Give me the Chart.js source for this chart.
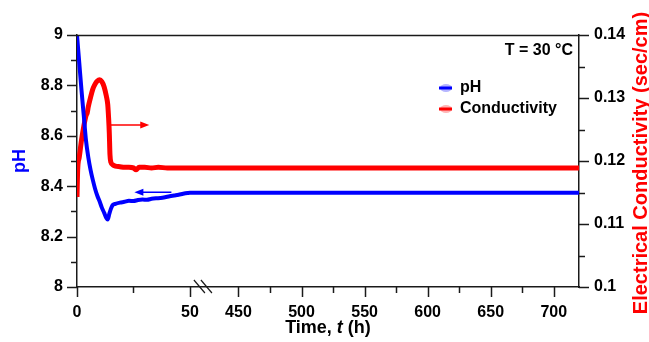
<!DOCTYPE html>
<html>
<head>
<meta charset="utf-8">
<script src="https://cdn.jsdelivr.net/npm/chart.js@4.4.1/dist/chart.umd.min.js"></script>
<style>
  html, body { margin: 0; padding: 0; background: #fff; }
</style>
</head>
<body>
<canvas id="chart" width="649" height="342"></canvas>
<script>
// pH readings (left axis), time in hours
const phTime = [0, 1, 2, 3, 4, 5, 6, 7, 8, 9, 10, 11, 12, 13, 13.6, 14.3, 15, 15.8, 17, 19, 21, 23, 25, 27, 29, 31, 33, 35, 37, 39, 41, 43, 45, 47, 49, 50, 450, 720];
const phValues = [9.00, 8.89, 8.78, 8.68, 8.58, 8.515, 8.465, 8.425, 8.39, 8.362, 8.34, 8.315, 8.295, 8.274, 8.268, 8.29, 8.31, 8.325, 8.33, 8.335, 8.338, 8.342, 8.341, 8.345, 8.347, 8.346, 8.35, 8.352, 8.353, 8.356, 8.36, 8.363, 8.366, 8.37, 8.373, 8.374, 8.374, 8.374];

// Electrical conductivity readings (right axis)
const condTime = [0, 0.3, 1, 2, 3, 4, 4.5, 5, 6, 7, 8, 9, 10, 11, 12, 13, 13.6, 14, 14.3, 14.6, 15, 15.8, 17, 19, 21, 23, 25, 26.2, 27.5, 30, 33, 36, 40, 44, 47, 50, 450, 720];
const condValues = [0.1143, 0.1186, 0.1206, 0.1233, 0.1255, 0.1272, 0.1276, 0.1286, 0.1301, 0.1314, 0.1322, 0.1327, 0.1329, 0.1326, 0.1318, 0.1303, 0.1290, 0.1268, 0.1245, 0.1210, 0.1198, 0.1194, 0.1192, 0.1191, 0.1190, 0.1190, 0.1189, 0.1186, 0.1190, 0.1190, 0.1189, 0.1190, 0.1189, 0.1189, 0.1189, 0.1189, 0.1189, 0.1189];

// tick values
const xMajorTicks = [0, 50, 450, 500, 550, 600, 650, 700];
const xMinorTicks = [25, 475, 525, 575, 625, 675];
const phMajorTicks = [8, 8.2, 8.4, 8.6, 8.8, 9];
const phMinorTicks = [8.1, 8.3, 8.5, 8.7, 8.9];
const condMajorTicks = [0.1, 0.11, 0.12, 0.13, 0.14];
const condMinorTicks = [0.105, 0.115, 0.125, 0.135];

const seriesLabels = ['pH', 'Conductivity'];
const tempLabel = 'T = 30 °C';

// broken time axis: 0-50 h, then 450-720 h
const xMax = 720;
const breakLow = 50, breakHigh = 450;
const gapWidth = 21.5;      // width of the break, in first-segment hours
const secondScale = 0.5585; // second segment is compressed

const FONT = "'Liberation Sans', Arial, sans-serif";
const AXIS_COLOR = '#1a1a1a';

// position along the axis, measured in first-segment hours
function axisPos(t) {
    if (t <= breakLow) return t;
    if (t < breakHigh) return breakLow + gapWidth * (t - breakLow) / (breakHigh - breakLow);
    return breakLow + gapWidth + (t - breakHigh) * secondScale;
}

// linear scale with a gap between 50 h and 450 h
class BrokenScale extends Chart.LinearScale {
    getPixelForValue(value) {
        return this.getPixelForDecimal(axisPos(value) / axisPos(this.max));
    }
    getValueForPixel(pixel) {
        const v = this.getDecimalForPixel(pixel) * axisPos(this.max);
        if (v <= breakLow) return v;
        if (v <= breakLow + gapWidth) return breakLow + (v - breakLow) / gapWidth * (breakHigh - breakLow);
        return breakHigh + (v - breakLow - gapWidth) / secondScale;
    }
}
BrokenScale.id = 'broken';
BrokenScale.defaults = Chart.LinearScale.defaults;
Chart.register(BrokenScale);

function toPoints(xs, ys) {
    return xs.map((x, i) => ({ x: x, y: ys[i] }));
}

function setTicks(major, minor) {
    return function(scale) {
        scale.ticks = major.concat(minor).sort((a, b) => a - b).map(v => ({ value: v }));
    };
}

function majorLabel(major) {
    return function(value) {
        return major.some(m => Math.abs(m - value) < 1e-9) ? String(value) : '';
    };
}

// tick marks: long for labelled ticks, short for minor ones
const tickMarks = {
    id: 'tickMarks',
    afterDraw(chart) {
        const ctx = chart.ctx;
        ctx.save();
        ctx.strokeStyle = AXIS_COLOR;
        ctx.lineWidth = 1.5;
        ['x', 'y', 'y1'].forEach(id => {
            const s = chart.scales[id];
            s.ticks.forEach((t, i) => {
                const len = t.label ? 10 : 6;
                const p = Math.round(s.getPixelForValue(t.value)) + 0.5;
                ctx.beginPath();
                if (id === 'x') {
                    ctx.moveTo(p, s.top); ctx.lineTo(p, s.top + len);
                } else if (id === 'y') {
                    ctx.moveTo(s.right, p); ctx.lineTo(s.right - len, p);
                } else {
                    ctx.moveTo(s.left, p); ctx.lineTo(s.left + len, p);
                }
                ctx.stroke();
            });
        });
        // top frame line
        const a = chart.chartArea;
        ctx.beginPath();
        ctx.moveTo(a.left, a.top + 0.5);
        ctx.lineTo(a.right, a.top + 0.5);
        ctx.stroke();

        // break marks on the time axis
        const x = chart.scales.x;
        const bx = x.getPixelForValue(breakLow) + 4;
        ctx.lineWidth = 1.2;
        [0, 7].forEach(dx => {
            ctx.beginPath();
            ctx.moveTo(bx + dx, a.bottom - 7);
            ctx.lineTo(bx + dx + 11, a.bottom + 6);
            ctx.stroke();
        });
        ctx.restore();
    }
};

// titles, legend, arrows and the temperature note
const annotations = {
    id: 'annotations',
    afterDraw(chart) {
        const ctx = chart.ctx;
        const a = chart.chartArea;
        const x = chart.scales.x, y = chart.scales.y, y1 = chart.scales.y1;
        ctx.save();

        // arrows pointing to each series' axis
        function arrow(x0, x1, py, color) {
            const px0 = x.getPixelForValue(x0), px1 = x.getPixelForValue(x1);
            const dir = px1 > px0 ? 1 : -1;
            ctx.strokeStyle = color;
            ctx.fillStyle = color;
            ctx.lineWidth = 1.5;
            ctx.beginPath();
            ctx.moveTo(px0, py);
            ctx.lineTo(px1 - dir * 6, py);
            ctx.stroke();
            ctx.beginPath();
            ctx.moveTo(px1, py);
            ctx.lineTo(px1 - dir * 9, py - 3.5);
            ctx.lineTo(px1 - dir * 9, py + 3.5);
            ctx.closePath();
            ctx.fill();
        }
        arrow(14.5, 32, y1.getPixelForValue(0.1257), '#ff0000');
        arrow(41.8, 25.4, y.getPixelForValue(8.376), '#0000ff');

        // temperature note
        ctx.fillStyle = '#000';
        ctx.font = 'bold 16px ' + FONT;
        ctx.textAlign = 'right';
        ctx.textBaseline = 'middle';
        ctx.fillText(tempLabel, a.right - 6, a.top + 16);

        // legend
        chart.data.datasets.forEach((ds, i) => {
            const ly = a.top + 53 + i * 21;
            const lx = a.right - 133;
            ctx.fillStyle = ds.legendFill;
            ctx.beginPath();
            ctx.ellipse(lx, ly, 6, 4, 0, 0, Math.PI * 2);
            ctx.fill();
            ctx.strokeStyle = ds.borderColor;
            ctx.lineWidth = 3;
            ctx.beginPath();
            ctx.moveTo(lx - 7, ly);
            ctx.lineTo(lx + 6, ly);
            ctx.stroke();
            ctx.fillStyle = '#000';
            ctx.textAlign = 'left';
            ctx.fillText(ds.label, lx + 14, ly);
        });

        // x axis title with italic t
        const parts = [['Time, ', 'bold'], ['t', 'italic bold'], [' (h)', 'bold']];
        let total = 0;
        parts.forEach(p => { ctx.font = p[1] + ' 18px ' + FONT; total += ctx.measureText(p[0]).width; });
        let cx = (a.left + a.right) / 2 - total / 2;
        ctx.textAlign = 'left';
        ctx.fillStyle = '#000';
        parts.forEach(p => {
            ctx.font = p[1] + ' 18px ' + FONT;
            ctx.fillText(p[0], cx, 328);
            cx += ctx.measureText(p[0]).width;
        });

        // right axis title, reading bottom to top
        ctx.translate(647, (a.top + a.bottom) / 2 + 2);
        ctx.rotate(-Math.PI / 2);
        ctx.font = 'bold 20px ' + FONT;
        ctx.fillStyle = '#ff0000';
        ctx.textAlign = 'center';
        ctx.textBaseline = 'alphabetic';
        ctx.fillText('Electrical Conductivity (sec/cm)', 0, 0);
        ctx.restore();
    }
};

const tickFont = { family: FONT, size: 16, weight: 'bold' };

new Chart(document.getElementById('chart'), {
    type: 'line',
    data: {
        datasets: [
            {
                label: seriesLabels[0],
                data: toPoints(phTime, phValues),
                yAxisID: 'y',
                borderColor: '#0000ff',
                legendFill: 'rgba(90,90,255,0.45)',
                borderWidth: 4,
                pointRadius: 0,
                cubicInterpolationMode: 'monotone'
            },
            {
                label: seriesLabels[1],
                data: toPoints(condTime, condValues),
                yAxisID: 'y1',
                borderColor: '#ff0000',
                legendFill: 'rgba(255,90,90,0.45)',
                borderWidth: 5,
                pointRadius: 0,
                cubicInterpolationMode: 'monotone'
            }
        ]
    },
    options: {
        responsive: false,
        animation: false,
        layout: { padding: { top: 35, left: 0, right: 0, bottom: 0 } },
        plugins: { legend: { display: false }, tooltip: { enabled: false } },
        scales: {
            x: {
                type: 'broken',
                min: 0,
                max: xMax,
                afterFit: s => { s.height = 55; },
                afterBuildTicks: setTicks(xMajorTicks, xMinorTicks),
                grid: { drawOnChartArea: false, tickLength: 10, tickColor: 'transparent' },
                border: { color: AXIS_COLOR, width: 1.5 },
                ticks: {
                    autoSkip: false, maxRotation: 0, padding: 6,
                    color: '#000', font: tickFont,
                    callback: majorLabel(xMajorTicks)
                }
            },
            y: {
                position: 'left',
                min: 8,
                max: 9,
                afterFit: s => { s.width = 77; },
                afterBuildTicks: setTicks(phMajorTicks, phMinorTicks),
                grid: { drawOnChartArea: false, tickLength: 10, tickColor: 'transparent' },
                border: { color: AXIS_COLOR, width: 1.5 },
                ticks: {
                    autoSkip: false, padding: 4,
                    color: '#000', font: tickFont,
                    callback: majorLabel(phMajorTicks)
                },
                title: {
                    display: true, text: 'pH', color: '#0000ff',
                    font: { family: FONT, size: 18, weight: 'bold' },
                    padding: { top: 9, bottom: 0 }
                }
            },
            y1: {
                position: 'right',
                min: 0.1,
                max: 0.14,
                afterFit: s => { s.width = 70; },
                afterBuildTicks: setTicks(condMajorTicks, condMinorTicks),
                grid: { drawOnChartArea: false, tickLength: 10, tickColor: 'transparent' },
                border: { color: AXIS_COLOR, width: 1.5 },
                ticks: {
                    autoSkip: false, padding: 5,
                    color: '#000', font: tickFont,
                    callback: majorLabel(condMajorTicks)
                }
            }
        }
    },
    plugins: [tickMarks, annotations]
});
</script>
</body>
</html>
